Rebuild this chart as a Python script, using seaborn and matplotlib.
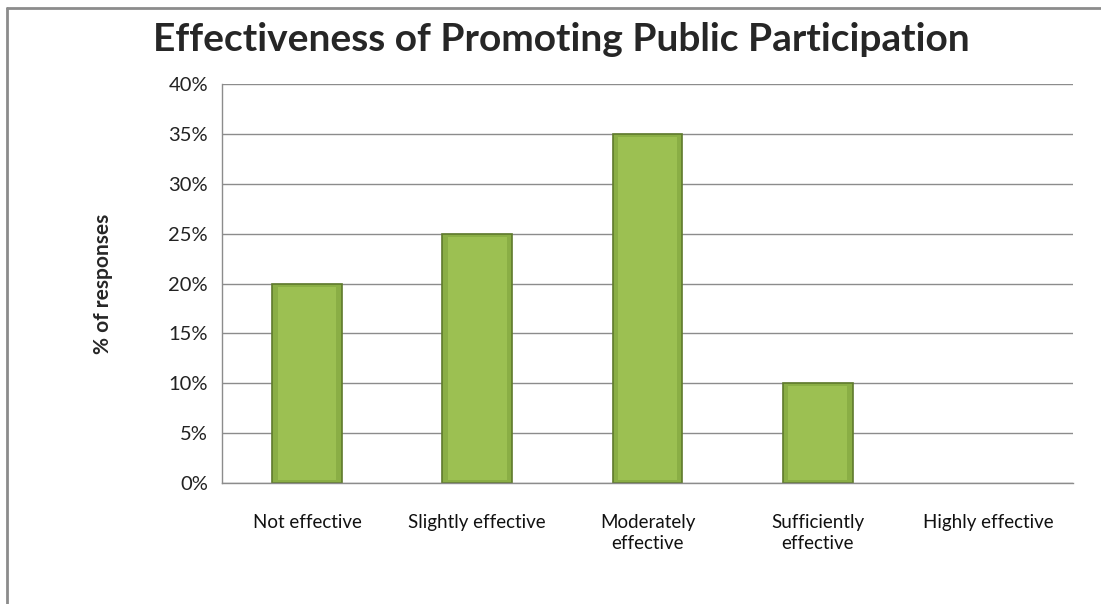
import numpy as np
import pandas as pd
import matplotlib
matplotlib.use("Agg")
import matplotlib.pyplot as plt
import seaborn as sns
from matplotlib.ticker import PercentFormatter, FixedLocator

categories = ["Not effective", "Slightly effective", "Moderately\neffective",
              "Sufficiently\neffective", "Highly effective"]
responses = [20, 25, 35, 10, 0]
y_ticks = [0, 5, 10, 15, 20, 25, 30, 35, 40]

df = pd.DataFrame({"category": categories, "pct": responses})

sns.set_style("white")
plt.rcParams['font.family'] = ['Lato', 'DejaVu Sans']

fig = plt.figure(figsize=(11.01, 6.04), dpi=100)
ax = fig.add_axes([0.2016, 0.2003, 0.773, 0.6606])

sns.barplot(data=df, x="category", y="pct", ax=ax, color="#8AAE45",
            width=0.41, edgecolor="#5F7A2C", linewidth=1.2, saturation=1)

# light bevel highlight on each bar, hide empty bars
for p in ax.patches:
    x0, w, h = p.get_x(), p.get_width(), p.get_height()
    if h > 0:
        ax.fill_between([x0 + w * 0.08, x0 + w * 0.92], 0.3, h - 0.3,
                        color="#9CC052", zorder=p.get_zorder() + 0.1, lw=0)
    else:
        p.set_visible(False)

ax.set_ylim(0, 40)
ax.set_xlim(-0.5, 4.5)
ax.set_yticks(y_ticks)
ax.yaxis.set_major_formatter(PercentFormatter(decimals=0))
ax.yaxis.grid(True, color="#8C8C8C", linewidth=1)
ax.set_axisbelow(True)

ax.xaxis.set_minor_locator(FixedLocator(np.arange(-0.5, 5, 1)))
ax.tick_params(axis="x", which="major", length=0, pad=22, labelsize=13.5, colors="#111111")
ax.tick_params(axis="x", which="minor", length=6, color="#8C8C8C", direction="out")
ax.tick_params(axis="y", length=6, color="#8C8C8C", direction="out", labelsize=14.5, pad=4)
for lbl in ax.get_yticklabels():
    lbl.set_color("#222222")
for lbl in ax.get_xticklabels():
    lbl.set_linespacing(1.35)

for side in ["top", "right"]:
    ax.spines[side].set_visible(False)
for side in ["left", "bottom"]:
    ax.spines[side].set_color("#8C8C8C")
    ax.spines[side].set_linewidth(1)

ax.set_xlabel("")
ax.set_ylabel("% of responses", fontsize=15, fontweight="bold", labelpad=40)

fig.text(0.51, 0.934, "Effectiveness of Promoting Public Participation",
         ha="center", va="center", fontsize=28, fontweight="bold")

# outer chart border
fig.add_artist(plt.Line2D([7 / 1101, 7 / 1101], [0, 1 - 8 / 604], color="#8C8C8C", lw=2))
fig.add_artist(plt.Line2D([7 / 1101, 1], [1 - 8 / 604, 1 - 8 / 604], color="#8C8C8C", lw=2))

fig.savefig("out.png", dpi=100)
